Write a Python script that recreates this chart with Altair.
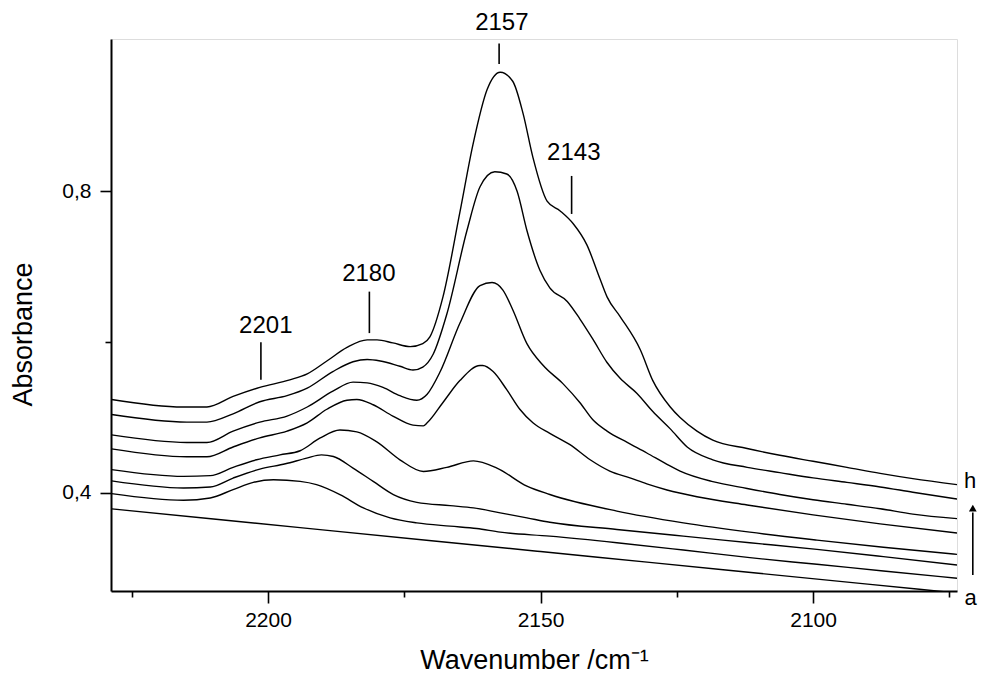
import altair as alt
import pandas as pd

FONT = "Liberation Sans"

# ---- spectra (wavenumber / absorbance) ----
wn_h = [2228.7, 2215.6, 2211.2, 2206.4, 2201.5, 2196.0, 2192.8, 2189.2, 2185.5, 2181.8,
        2180.0, 2177.1, 2173.9, 2171.6, 2170.3, 2167.9, 2164.8, 2162.4, 2159.8, 2157.4,
        2155.1, 2153.2, 2151.4, 2148.8, 2146.4, 2144.0, 2141.5, 2139.1, 2137.8, 2135.4,
        2131.7, 2129.4, 2126.2, 2124.4, 2121.3, 2118.4, 2112.1, 2106.1, 2100.0, 2093.8,
        2087.7, 2081.7, 2073.6]
abs_h = [0.524, 0.514, 0.514, 0.528, 0.540, 0.550, 0.558, 0.575, 0.593, 0.603,
         0.603, 0.599, 0.594, 0.598, 0.607, 0.660, 0.772, 0.862, 0.935, 0.958,
         0.946, 0.903, 0.845, 0.787, 0.774, 0.757, 0.729, 0.684, 0.660, 0.634,
         0.590, 0.549, 0.514, 0.500, 0.482, 0.470, 0.459, 0.450, 0.442, 0.434,
         0.426, 0.419, 0.411]

wn_g = [2228.7, 2214.9, 2211.2, 2206.4, 2201.5, 2196.5, 2192.8, 2188.1, 2184.4, 2181.8,
        2179.4, 2175.8, 2173.4, 2171.6, 2169.7, 2167.2, 2163.5, 2161.1, 2158.4, 2156.2,
        2154.3, 2152.5, 2150.1, 2148.3, 2145.1, 2142.8, 2140.4, 2137.8, 2135.4, 2132.3,
        2129.4, 2126.2, 2123.1, 2118.4, 2112.1, 2106.1, 2100.0, 2093.8, 2087.7, 2081.7,
        2073.6]
abs_g = [0.504, 0.494, 0.494, 0.505, 0.521, 0.529, 0.539, 0.561, 0.574, 0.577,
         0.575, 0.568, 0.563, 0.567, 0.584, 0.637, 0.748, 0.806, 0.826, 0.823,
         0.800, 0.748, 0.695, 0.672, 0.654, 0.631, 0.604, 0.573, 0.552, 0.532,
         0.508, 0.485, 0.461, 0.444, 0.434, 0.427, 0.420, 0.414, 0.408, 0.401,
         0.392]

wn_f = [2228.7, 2214.9, 2211.2, 2206.4, 2201.5, 2196.5, 2192.8, 2188.1, 2184.4, 2181.8,
        2178.9, 2175.8, 2172.7, 2170.8, 2168.4, 2164.8, 2161.1, 2158.9, 2156.9, 2155.1,
        2152.5, 2149.5, 2145.9, 2142.8, 2140.4, 2137.8, 2134.1, 2130.5, 2126.8, 2124.4,
        2118.4, 2112.1, 2106.1, 2100.0, 2093.8, 2087.7, 2081.7, 2073.6]
abs_f = [0.477, 0.467, 0.467, 0.482, 0.494, 0.502, 0.514, 0.535, 0.547, 0.546,
         0.540, 0.529, 0.523, 0.531, 0.561, 0.625, 0.675, 0.679, 0.669, 0.643,
         0.598, 0.569, 0.545, 0.520, 0.497, 0.482, 0.467, 0.453, 0.438, 0.429,
         0.415, 0.406, 0.398, 0.391, 0.385, 0.379, 0.372, 0.366]

wn_e = [2228.7, 2214.9, 2211.2, 2206.4, 2201.5, 2196.5, 2192.8, 2189.2, 2185.5, 2183.7,
        2180.7, 2177.1, 2173.4, 2171.5, 2170.8, 2167.9, 2164.8, 2161.1, 2160.6, 2158.7,
        2156.2, 2153.8, 2151.4, 2148.3, 2144.6, 2140.9, 2137.3, 2133.6, 2130.5, 2126.8,
        2121.3, 2112.1, 2100.0, 2087.7, 2073.6]
abs_e = [0.4585, 0.448, 0.448, 0.461, 0.473, 0.482, 0.493, 0.511, 0.523, 0.524,
         0.517, 0.502, 0.490, 0.489, 0.493, 0.520, 0.549, 0.569, 0.569, 0.561,
         0.537, 0.511, 0.493, 0.479, 0.464, 0.444, 0.429, 0.420, 0.412, 0.404,
         0.395, 0.384, 0.371, 0.359, 0.347]

wn_d = [2228.7, 2215.5, 2210.6, 2206.4, 2202.1, 2197.8, 2194.1, 2190.5, 2186.8, 2183.7,
        2180.1, 2175.8, 2171.5, 2167.2, 2162.3, 2158.0, 2152.5, 2148.3, 2136.0, 2123.8,
        2111.6, 2099.3, 2087.1, 2073.6]
abs_d = [0.431, 0.422, 0.423, 0.434, 0.444, 0.4505, 0.456, 0.4726, 0.4835, 0.481,
         0.468, 0.444, 0.4285, 0.434, 0.4426, 0.433, 0.409, 0.398, 0.376, 0.3604,
         0.348, 0.3375, 0.328, 0.3186]

wn_c = [2228.7, 2215.5, 2210.6, 2206.4, 2201.5, 2196.8, 2192.9, 2190.2, 2188.0, 2184.4,
        2180.7, 2177.0, 2172.7, 2166.6, 2162.3, 2157.4, 2152.5, 2148.3, 2136.0, 2123.8,
        2111.6, 2099.3, 2087.1, 2073.6]
abs_c = [0.416, 0.4066, 0.4079, 0.4198, 0.4317, 0.4387, 0.4462, 0.4505, 0.4483, 0.4330,
         0.4153, 0.3978, 0.3876, 0.3832, 0.3802, 0.3736, 0.3670, 0.3612, 0.3516, 0.3427,
         0.3340, 0.3252, 0.3156, 0.3045]

wn_b = [2228.7, 2215.5, 2210.6, 2206.4, 2202.7, 2199.0, 2194.1, 2191.1, 2186.8, 2182.5,
        2177.6, 2172.7, 2166.6, 2161.7, 2157.4, 2148.3, 2136.0, 2123.8, 2111.6, 2099.3,
        2087.1, 2073.6]
abs_b = [0.3991, 0.3903, 0.3934, 0.4044, 0.4140, 0.4175, 0.4153, 0.4110, 0.3978, 0.3802,
         0.3670, 0.3604, 0.3560, 0.3529, 0.3480, 0.3427, 0.3340, 0.3243, 0.3142, 0.3054,
         0.2966, 0.2870]

wn_a = [2228.7, 2210.0, 2190.0, 2170.0, 2150.0, 2130.0, 2110.0, 2090.0, 2073.6]
abs_a = [0.379, 0.3655, 0.3511, 0.3367, 0.3223, 0.3079, 0.2935, 0.2791, 0.2673]

# ---- annotations ----
peak_labels = ["2201", "2180", "2157", "2143"]
peak_label_wn = [2200.4, 2181.5, 2157.1, 2143.9]
peak_label_abs = [0.6118, 0.6812, 1.0135, 0.8416]
peak_mark_wn = [2201.3, 2181.4, 2157.6, 2144.3]
peak_mark_top = [0.600, 0.667, 0.996, 0.8204]
peak_mark_bottom = [0.550, 0.612, 0.969, 0.770]

end_labels = ["h", "a"]
end_label_wn = [2071.2, 2071.1]
end_label_abs = [0.4062, 0.2515]
arrow_wn = [2070.7]
arrow_from = [0.2913]
arrow_to = [0.374]
arrow_head = [0.380]

x_ticks = [2225, 2200, 2175, 2150, 2125, 2100, 2075]
y_ticks = [0.4, 0.6, 0.8]

# ---- build tables ----
series = {"a": (wn_a, abs_a), "b": (wn_b, abs_b), "c": (wn_c, abs_c), "d": (wn_d, abs_d),
          "e": (wn_e, abs_e), "f": (wn_f, abs_f), "g": (wn_g, abs_g), "h": (wn_h, abs_h)}
rows = []
for name, (ws, ys) in series.items():
    for w, y in zip(ws, ys):
        rows.append({"curve": name, "wn": w, "A": y})
df = pd.DataFrame(rows)

peaks_df = pd.DataFrame({"label": peak_labels, "wn": peak_label_wn, "A": peak_label_abs})
marks_df = pd.DataFrame({"wn": peak_mark_wn, "A": peak_mark_bottom, "A2": peak_mark_top})
ends_df = pd.DataFrame({"label": end_labels, "wn": end_label_wn, "A": end_label_abs})
arrow_df = pd.DataFrame({"wn": arrow_wn, "A": arrow_from, "A2": arrow_to})
head_df = pd.DataFrame({"wn": arrow_wn, "A": arrow_head})

x_scale = alt.Scale(domain=[2073.6, 2228.8], reverse=True, nice=False, zero=False)
y_scale = alt.Scale(domain=[0.27, 1.002], nice=False, zero=False)

x_axis = alt.Axis(
    values=x_ticks,
    labelExpr="datum.value % 50 == 0 ? format(datum.value, 'd') : ''",
    tickSize={"condition": {"test": "datum.value % 50 == 0", "value": 12}, "value": 6},
    tickWidth=1.6, tickColor="black", domainColor="black", domainWidth=2,
    labelFont=FONT, labelFontSize=21, labelColor="black", labelPadding=6,
    title="Wavenumber /cm⁻¹", titleFont=FONT, titleFontSize=27, titleFontWeight="normal",
    titleColor="black", titleY=77, titleBaseline="alphabetic", grid=False,
)
y_axis = alt.Axis(
    values=y_ticks,
    labelExpr="abs(datum.value - 0.6) < 0.01 ? '' : replace(format(datum.value, '.1f'), '.', ',')",
    tickSize={"condition": {"test": "abs(datum.value - 0.6) > 0.01", "value": 11}, "value": 6},
    tickWidth=1.6, tickColor="black", domainColor="black", domainWidth=2,
    labelFont=FONT, labelFontSize=21, labelColor="black", labelPadding=9,
    title="Absorbance", titleFont=FONT, titleFontSize=27, titleFontWeight="normal",
    titleColor="black", titleX=-88, titleY=295, titleAlign="center", titleBaseline="middle",
    titleAngle=270, grid=False,
)

lines = alt.Chart(df).mark_line(
    color="black", strokeWidth=1.4, clip=True, interpolate="monotone"
).encode(
    x=alt.X("wn:Q", scale=x_scale, axis=x_axis),
    y=alt.Y("A:Q", scale=y_scale, axis=y_axis),
    detail="curve:N",
    order=alt.Order("wn:Q", sort="descending"),
)

peak_text = alt.Chart(peaks_df).mark_text(
    font=FONT, fontSize=24, color="black", align="center", baseline="alphabetic"
).encode(x="wn:Q", y="A:Q", text="label:N")

peak_marks = alt.Chart(marks_df).mark_rule(color="black", strokeWidth=1.6).encode(
    x="wn:Q", y="A:Q", y2="A2:Q"
)

end_text = alt.Chart(ends_df).mark_text(
    font=FONT, fontSize=22, color="black", align="center", baseline="alphabetic"
).encode(x="wn:Q", y="A:Q", text="label:N")

arrow = alt.Chart(arrow_df).mark_rule(color="black", strokeWidth=1.6).encode(
    x="wn:Q", y="A:Q", y2="A2:Q"
)
head = alt.Chart(head_df).mark_point(
    shape="triangle-up", filled=True, color="black", size=60, opacity=1
).encode(x="wn:Q", y="A:Q")

chart = alt.layer(lines, peak_marks, peak_text, end_text, arrow, head).properties(
    width=846,
    height=552,
    autosize=alt.AutoSizeParams(type="none"),
    padding={"left": 103, "top": 31, "right": 22, "bottom": 84},
).configure_view(stroke=None).configure(background="white")

chart.save("out.html", embed_options={"renderer": "svg", "actions": False})
